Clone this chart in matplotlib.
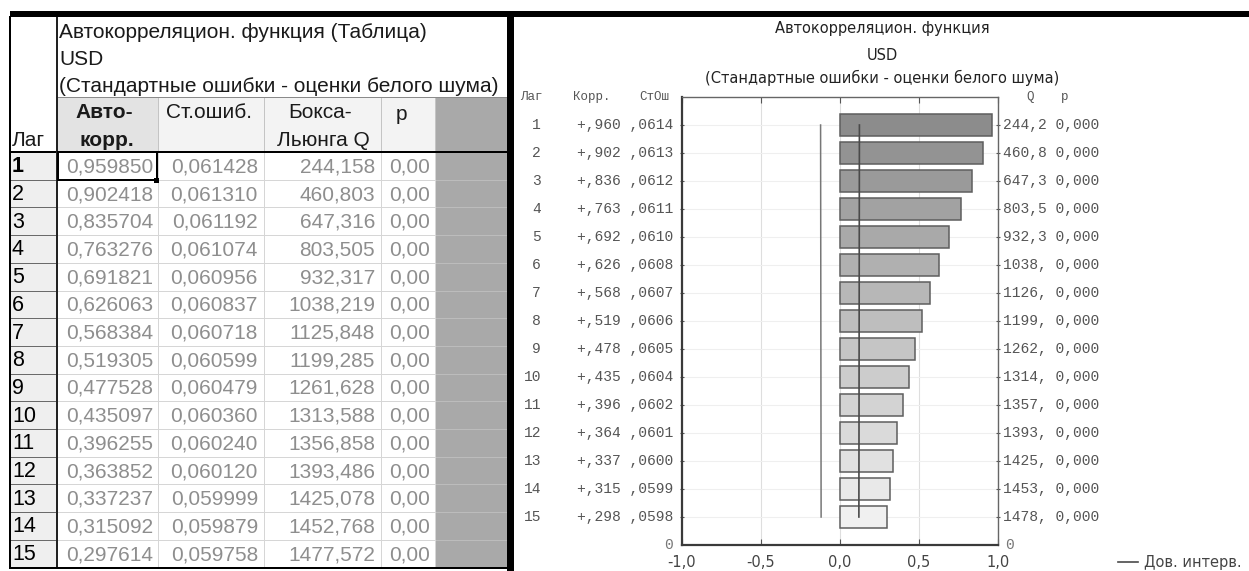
import matplotlib
matplotlib.use('Agg')
import matplotlib.pyplot as plt
from matplotlib.patches import Rectangle
from matplotlib.lines import Line2D

# ---------------- data ----------------
lags = list(range(1, 16))
acf = [0.959850, 0.902418, 0.835704, 0.763276, 0.691821, 0.626063, 0.568384,
       0.519305, 0.477528, 0.435097, 0.396255, 0.363852, 0.337237, 0.315092, 0.297614]
se = [0.061428, 0.061310, 0.061192, 0.061074, 0.060956, 0.060837, 0.060718,
      0.060599, 0.060479, 0.060360, 0.060240, 0.060120, 0.059999, 0.059879, 0.059758]
q_stat = [244.158, 460.803, 647.316, 803.505, 932.317, 1038.219, 1125.848,
          1199.285, 1261.628, 1313.588, 1356.858, 1393.486, 1425.078, 1452.768, 1477.572]
p_val = [0.0] * 15
x_ticks = [-1.0, -0.5, 0.0, 0.5, 1.0]
x_ticklabels = ["-1,0", "-0,5", "0,0", "0,5", "1,0"]
chart_title = ["Автокорреляцион. функция", "USD", "(Стандартные ошибки - оценки белого шума)"]
table_title = ["Автокорреляцион. функция (Таблица)", "USD", "(Стандартные ошибки - оценки белого шума)"]
legend_label = "Дов. интерв."

W, H = 1249, 571
fig = plt.figure(figsize=(W / 100, H / 100), dpi=100)
fig.patch.set_facecolor('white')
bg = fig.add_axes([0, 0, 1, 1])
bg.set_xlim(0, W)
bg.set_ylim(H, 0)
bg.axis('off')

PX = 0.72  # points per pixel
SANS = 'Liberation Sans'
MONO = 'Liberation Mono'

# ---------------- table (left) ----------------
X0 = 10
C = [57, 158, 264, 381, 435, 507]
TOP, TT, HB = 17, 97, 152
RH = 27.7
BOT = HB + 15 * RH

hdr_bg = ['#e3e3e3', '#f3f3f3', '#f3f3f3', '#f3f3f3']
for i in range(4):
    bg.add_patch(Rectangle((C[i], TT), C[i + 1] - C[i], HB - TT, fc=hdr_bg[i], ec='none'))
bg.add_patch(Rectangle((C[4], TT), C[5] - C[4], BOT - TT, fc='#a9a9a9', ec='none'))
bg.add_patch(Rectangle((X0, HB), C[0] - X0, BOT - HB, fc='#efefef', ec='none'))

for i in range(1, 15):
    y = HB + i * RH
    bg.plot([C[0], C[4]], [y, y], color='#d6d6d6', lw=1 * PX)
    bg.plot([C[4], C[5]], [y, y], color='#bcbcbc', lw=1 * PX)
    bg.plot([X0, C[0]], [y, y], color='#6a6a6a', lw=1 * PX)
for cx in C[1:5]:
    bg.plot([cx, cx], [HB, BOT], color='#d6d6d6', lw=1 * PX)
    bg.plot([cx, cx], [TT, HB], color='#c4c4c4', lw=1 * PX)

bg.plot([C[0], C[5]], [TT, TT], color='#8a8a8a', lw=1 * PX)
bg.plot([X0, C[5]], [HB, HB], color='black', lw=2 * PX)
bg.plot([X0, X0], [TOP, BOT], color='black', lw=2 * PX)
bg.plot([C[0], C[0]], [TOP, BOT], color='#222222', lw=2 * PX)
bg.plot([X0, C[5]], [BOT, BOT], color='black', lw=2 * PX)
bg.plot([X0, W], [14, 14], color='black', lw=6 * PX, solid_capstyle='butt')
bg.plot([510.5, 510.5], [11, H], color='black', lw=7 * PX, solid_capstyle='butt')

# selection box
bg.add_patch(Rectangle((58, HB), 99, 28, fill=False, ec='black', lw=2 * PX, zorder=5))
bg.add_patch(Rectangle((154.5, 177.5), 5, 5, fc='black', ec='none', zorder=6))

FS = 15
for k, line in enumerate(table_title):
    bg.text(59, 33 + k * 26.5, line, fontsize=FS, family=SANS, color='#1a1a1a',
            ha='left', va='center')
bg.text(12, 141, "Лаг", fontsize=FS, family=SANS, color='#1a1a1a', ha='left', va='center')
bg.text(104, 113, "Авто-", fontsize=FS, family=SANS, weight='bold', color='#1a1a1a', ha='center', va='center')
bg.text(107, 140, "корр.", fontsize=FS, family=SANS, weight='bold', color='#1a1a1a', ha='center', va='center')
bg.text(209, 113, "Ст.ошиб.", fontsize=FS, family=SANS, color='#1a1a1a', ha='center', va='center')
bg.text(320, 113, "Бокса-", fontsize=FS, family=SANS, color='#1a1a1a', ha='center', va='center')
bg.text(323, 140, "Льюнга Q", fontsize=FS, family=SANS, color='#1a1a1a', ha='center', va='center')
bg.text(401, 115, "p", fontsize=FS, family=SANS, color='#1a1a1a', ha='center', va='center')

DC = '#8e8e8e'
for i, lag in enumerate(lags):
    yc = HB + (i + 0.5) * RH + 1
    bg.text(12, yc, str(lag), fontsize=FS + 0.5, family=SANS, color='black',
            weight='bold' if i == 0 else 'normal', ha='left', va='center')
    bg.text(153, yc, f"{acf[i]:.6f}".replace('.', ','), fontsize=FS, family=SANS, color=DC, ha='right', va='center')
    bg.text(258, yc, f"{se[i]:.6f}".replace('.', ','), fontsize=FS, family=SANS, color=DC, ha='right', va='center')
    bg.text(375, yc, f"{q_stat[i]:.3f}".replace('.', ','), fontsize=FS, family=SANS, color=DC, ha='right', va='center')
    bg.text(430, yc, f"{p_val[i]:.2f}".replace('.', ','), fontsize=FS, family=SANS, color=DC, ha='right', va='center')

# ---------------- chart (right) ----------------
L, R, T, B = 682, 998, 97, 545
ax = fig.add_axes([L / W, 1 - B / H, (R - L) / W, (B - T) / H])
ax.set_xlim(-1, 1)
ax.set_ylim(16, 0)
ax.set_facecolor('white')

colors = [str(0.55 + (0.94 - 0.55) * i / 14) for i in range(15)]
ax.barh(lags, acf, height=0.82, left=0, color=colors, edgecolor='#5e5e5e', linewidth=1.1, zorder=2)
ax.plot([-2 * s for s in se], lags, color='#777777', lw=1.1, zorder=3)
conf_line, = ax.plot([2 * s for s in se], lags, color='#4a4a4a', lw=1.2, zorder=3)

ax.set_yticks(lags)
ax.set_xticks(x_ticks)
ax.set_xticklabels(x_ticklabels, family='DejaVu Sans', fontsize=10.5, color='#444444')
ax.yaxis.grid(True, color='#efefef', lw=0.8, zorder=0)
ax.xaxis.grid(True, color='#dedede', lw=0.8, zorder=0)
ax.set_axisbelow(True)
ax.tick_params(axis='y', left=True, right=True, length=3, width=0.8, direction='inout',
               color='#555555', labelleft=False, labelright=False)
ax.tick_params(axis='x', top=True, bottom=True, length=4, width=0.8, direction='in',
               color='#555555', pad=7)
for side in ['left', 'bottom']:
    ax.spines[side].set_color('#3a3a3a')
    ax.spines[side].set_linewidth(1.6)
for side in ['top', 'right']:
    ax.spines[side].set_color('#666666')
    ax.spines[side].set_linewidth(1.0)

def fx(px):
    return (px - L) / (R - L)

tr = ax.get_yaxis_transform()
MC = '#555555'
MFS = 10.5
for i, lag in enumerate(lags):
    ax.text(fx(541), lag, str(lag), transform=tr, family=MONO, fontsize=MFS, color=MC,
            ha='right', va='center', clip_on=False)
    corr_txt = "+,%03d ,%04d" % (round(acf[i] * 1000), round(se[i] * 10000))
    ax.text(fx(673), lag, corr_txt, transform=tr, family=MONO, fontsize=MFS, color=MC,
            ha='right', va='center', clip_on=False)
    qv = q_stat[i]
    q_txt = f"{qv:.1f}".replace('.', ',') if qv < 1000 else f"{round(qv)},"
    p_txt = f"{p_val[i]:.3f}".replace('.', ',')
    ax.text(fx(1003), lag, q_txt + " " + p_txt, transform=tr, family=MONO, fontsize=MFS,
            color=MC, ha='left', va='center', clip_on=False)

ax.text(fx(520), 0, "Лаг", transform=tr, family=MONO, fontsize=9, color=MC, ha='left', va='center', clip_on=False)
ax.text(fx(592), 0, "Корр.", transform=tr, family=MONO, fontsize=9, color=MC, ha='center', va='center', clip_on=False)
ax.text(fx(654), 0, "СтОш", transform=tr, family=MONO, fontsize=9, color=MC, ha='center', va='center', clip_on=False)
ax.text(fx(1030), 0, "Q", transform=tr, family=MONO, fontsize=9, color=MC, ha='center', va='center', clip_on=False)
ax.text(fx(1065), 0, "p", transform=tr, family=MONO, fontsize=9, color=MC, ha='center', va='center', clip_on=False)
ax.text(fx(673), 16, "0", transform=tr, family=MONO, fontsize=MFS, color='#777777', ha='right', va='center', clip_on=False)
ax.text(fx(1005), 16, "0", transform=tr, family=MONO, fontsize=MFS, color='#777777', ha='left', va='center', clip_on=False)

for k, (line, yy) in enumerate(zip(chart_title, [28, 55, 78])):
    bg.text(882, yy, line, fontsize=10.5, family='DejaVu Sans', color='#222222',
            ha='center', va='center')

fig.legend(handles=[conf_line], labels=[legend_label], loc='center left',
           bbox_to_anchor=(1118 / W, 1 - 563 / H), frameon=False, handlelength=1.4,
           handletextpad=0.35, borderpad=0, borderaxespad=0,
           prop={'family': 'DejaVu Sans', 'size': 10.5}, labelcolor='#444444')

fig.savefig('out.png', dpi=100, facecolor='white')
